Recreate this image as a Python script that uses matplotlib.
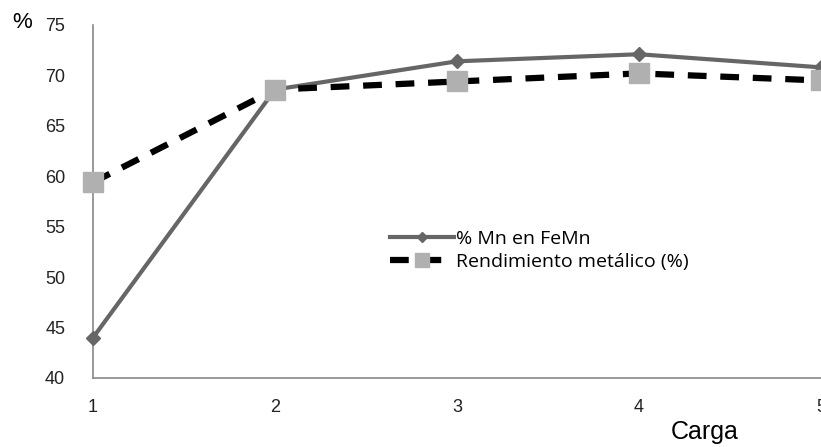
import matplotlib.pyplot as plt

carga = [1, 2, 3, 4, 5]
mn_fefm = [44.0, 68.6, 71.4, 72.1, 70.8]
rendimiento = [59.4, 68.6, 69.4, 70.2, 69.5]
yticks = [40, 45, 50, 55, 60, 65, 70, 75]

plt.rcParams["font.family"] = ["Liberation Sans", "DejaVu Sans"]

fig = plt.figure(figsize=(8.21, 4.47), dpi=100)
ax = fig.add_axes([93 / 821, 1 - 378 / 447, 1 - 93 / 821, (378 - 25) / 447])

ax.plot(carga, mn_fefm, color="#666666", linewidth=3, marker="D",
        markersize=7, markerfacecolor="#666666", markeredgecolor="#666666",
        label="% Mn en FeMn", clip_on=False, zorder=3)
ax.plot(carga, rendimiento, color="black", linewidth=4.5, linestyle=(0, (3, 2.2)),
        marker="s", markersize=15, markerfacecolor="#b0b0b0",
        markeredgecolor="#b0b0b0", label="Rendimiento metálico (%)",
        clip_on=False, zorder=4)

ax.set_xlim(1, 5)
ax.set_ylim(40, 75)
ax.set_xticks(carga)
ax.set_yticks(yticks)
ax.tick_params(length=0, labelsize=13, colors="#222222")
ax.tick_params(axis="x", pad=15)
ax.tick_params(axis="y", pad=20)
for s in ["top", "right"]:
    ax.spines[s].set_visible(False)
for s in ["left", "bottom"]:
    ax.spines[s].set_color("#888888")
    ax.spines[s].set_linewidth(1.2)

fig.text(22 / 821, 1 - 22 / 447, "%", fontsize=16, ha="center", va="center")
fig.text(705 / 821, 1 - 432 / 447, "Carga", fontsize=18, ha="center", va="center")

leg = ax.legend(loc="upper left", bbox_to_anchor=(0.408, 0.42), frameon=False,
                handlelength=3.3, handletextpad=0.1, markerscale=0.7,
                labelspacing=0.25, borderpad=0, borderaxespad=0,
                prop={"family": ["Open Sans", "DejaVu Sans"], "size": 14})

fig.savefig("out.png", dpi=100)
